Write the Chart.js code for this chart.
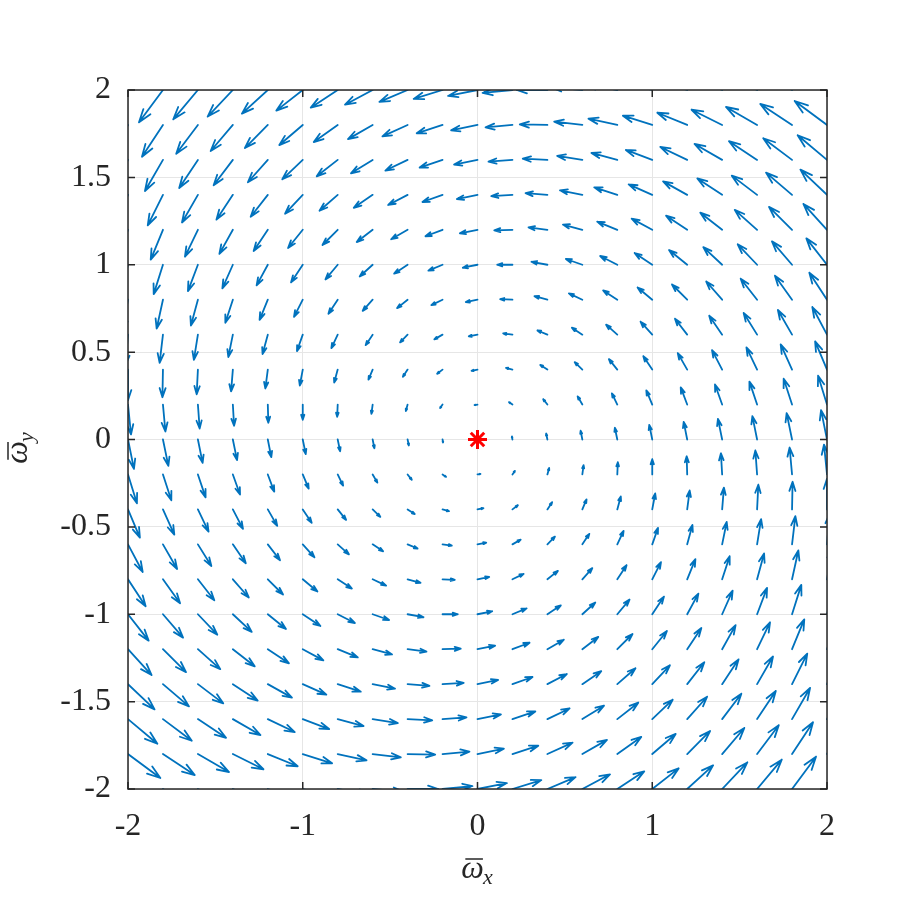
<!DOCTYPE html>
<html>
<head>
<meta charset="utf-8">
<title>Phase portrait</title>
<script src="https://cdn.jsdelivr.net/npm/chart.js@4.4.1/dist/chart.umd.min.js"></script>
<style>
  html, body { margin: 0; padding: 0; background: #fff; }
  #wrap { width: 913px; height: 913px; }
</style>
</head>
<body>
<div id="wrap"><canvas id="phase" width="913" height="913"></canvas></div>
<script>
(function () {
    'use strict';

    // --- Data ---
    // arrow tails sit on a 21 x 21 grid
    const gridX = [-2, -1.8, -1.6, -1.4, -1.2, -1, -0.8, -0.6, -0.4, -0.2, 0, 0.2, 0.4, 0.6, 0.8, 1, 1.2, 1.4, 1.6, 1.8, 2];
    const gridY = [-2, -1.8, -1.6, -1.4, -1.2, -1, -0.8, -0.6, -0.4, -0.2, 0, 0.2, 0.4, 0.6, 0.8, 1, 1.2, 1.4, 1.6, 1.8, 2];

    const duX = [0.034, 0.031, 0.027, 0.024, 0.020, 0.017, 0.014, 0.010, 0.007, 0.003, 0, -0.003, -0.007, -0.010, -0.014, -0.017, -0.020, -0.024, -0.027, -0.031, -0.034];
    const dvX = [-0.168, -0.151, -0.134, -0.118, -0.101, -0.084, -0.067, -0.050, -0.034, -0.017, 0, 0.017, 0.034, 0.050, 0.067, 0.084, 0.101, 0.118, 0.134, 0.151, 0.168];
    const duY = [0.168, 0.151, 0.134, 0.118, 0.101, 0.084, 0.067, 0.050, 0.034, 0.017, 0, -0.017, -0.034, -0.050, -0.067, -0.084, -0.101, -0.118, -0.134, -0.151, -0.168];
    const dvY = [0.034, 0.031, 0.027, 0.024, 0.020, 0.017, 0.014, 0.010, 0.007, 0.003, 0, -0.003, -0.007, -0.010, -0.014, -0.017, -0.020, -0.024, -0.027, -0.031, -0.034];

    const equilibrium = [{ x: 0, y: 0 }];

    const xTicks = [-2, -1, 0, 1, 2];
    const yTicks = [-2, -1.5, -1, -0.5, 0, 0.5, 1, 1.5, 2];

    // --- Styles ---
    const arrowColor = '#0072bd';
    const axisColor = '#262626';
    const gridColor = '#e6e6e6';
    const serif = '"Liberation Serif", "DejaVu Serif", serif';

    const arrows = [];
    gridY.forEach((gy, j) => {
        gridX.forEach((gx, i) => {
            arrows.push({ x: gx, y: gy, u: duX[i] + duY[j], v: dvX[i] + dvY[j] });
        });
    });

    // quiver arrows, under the equilibrium marker
    const quiverPlugin = {
        id: 'quiver',
        beforeDatasetsDraw(chart) {
            const { ctx, chartArea: a } = chart;
            const xs = chart.scales.x, ys = chart.scales.y;
            ctx.save();
            ctx.beginPath();
            ctx.rect(a.left, a.top, a.right - a.left, a.bottom - a.top);
            ctx.clip();
            ctx.strokeStyle = arrowColor;
            ctx.lineWidth = 1.8;
            ctx.lineCap = 'round';
            ctx.lineJoin = 'round';
            chart.data.datasets[0].data.forEach(p => {
                const x0 = xs.getPixelForValue(p.x), y0 = ys.getPixelForValue(p.y);
                const x1 = xs.getPixelForValue(p.x + p.u), y1 = ys.getPixelForValue(p.y + p.v);
                const dx = x1 - x0, dy = y1 - y0;
                ctx.beginPath();
                ctx.moveTo(x0, y0);
                ctx.lineTo(x1, y1);
                ctx.moveTo(x1 - 0.33 * (dx + 0.33 * dy), y1 - 0.33 * (dy - 0.33 * dx));
                ctx.lineTo(x1, y1);
                ctx.lineTo(x1 - 0.33 * (dx - 0.33 * dy), y1 - 0.33 * (dy + 0.33 * dx));
                ctx.stroke();
            });
            ctx.restore();
        }
    };

    // box with inward ticks on all four sides
    const framePlugin = {
        id: 'frame',
        afterDatasetsDraw(chart) {
            const { ctx, chartArea: a } = chart;
            const xs = chart.scales.x, ys = chart.scales.y;
            const len = 7;
            ctx.save();
            ctx.strokeStyle = axisColor;
            ctx.lineWidth = 1.5;
            ctx.beginPath();
            xTicks.forEach(t => {
                const px = xs.getPixelForValue(t);
                ctx.moveTo(px, a.bottom); ctx.lineTo(px, a.bottom - len);
                ctx.moveTo(px, a.top); ctx.lineTo(px, a.top + len);
            });
            yTicks.forEach(t => {
                const py = ys.getPixelForValue(t);
                ctx.moveTo(a.left, py); ctx.lineTo(a.left + len, py);
                ctx.moveTo(a.right, py); ctx.lineTo(a.right - len, py);
            });
            ctx.stroke();
            ctx.strokeRect(a.left, a.top, a.right - a.left, a.bottom - a.top);
            ctx.restore();
        }
    };

    // omega with a bar and a subscript, centred on cx
    function drawSymbol(ctx, sub, cx, base) {
        const big = 'italic 32px ' + serif;
        const small = 'italic 22px ' + serif;
        ctx.font = big;
        const wMain = ctx.measureText('\u03c9').width;
        ctx.font = small;
        const wSub = ctx.measureText(sub).width;
        const left = cx - (wMain + wSub) / 2;
        ctx.font = big;
        ctx.fillText('\u03c9', left, base);
        ctx.font = small;
        ctx.fillText(sub, left + wMain - 1, base + 6);
        ctx.lineWidth = 1.5;
        ctx.beginPath();
        ctx.moveTo(left + 4, base - 19);
        ctx.lineTo(left + wMain - 1, base - 19);
        ctx.stroke();
    }

    const titlePlugin = {
        id: 'titles',
        afterDraw(chart) {
            const { ctx, chartArea: a } = chart;
            ctx.save();
            ctx.fillStyle = axisColor;
            ctx.strokeStyle = axisColor;
            ctx.textAlign = 'left';
            ctx.textBaseline = 'alphabetic';
            drawSymbol(ctx, 'x', (a.left + a.right) / 2, 878);
            ctx.translate(27, (a.top + a.bottom) / 2 + 8);
            ctx.rotate(-Math.PI / 2);
            drawSymbol(ctx, 'y', 0, 0);
            ctx.restore();
        }
    };

    const tickFont = { family: serif, size: 32 };

    new Chart(document.getElementById('phase'), {
        type: 'scatter',
        data: {
            datasets: [
                {
                    label: 'field',
                    data: arrows,
                    pointRadius: 0,
                    pointHoverRadius: 0
                },
                {
                    label: 'equilibrium',
                    data: equilibrium,
                    pointStyle: 'star',
                    pointRadius: 9.5,
                    borderColor: '#ff0000',
                    backgroundColor: '#ff0000',
                    borderWidth: 3
                }
            ]
        },
        options: {
            responsive: false,
            animation: false,
            events: [],
            layout: { padding: { top: 90, right: 86, left: 0, bottom: 0 } },
            plugins: { legend: { display: false }, tooltip: { enabled: false } },
            scales: {
                x: {
                    type: 'linear',
                    min: -2,
                    max: 2,
                    afterBuildTicks: s => { s.ticks = xTicks.map(v => ({ value: v })); },
                    afterFit: s => { s.height = 124; },
                    grid: { color: gridColor, drawTicks: false },
                    border: { display: false },
                    ticks: { font: tickFont, color: axisColor, padding: 18, maxRotation: 0, callback: v => String(v) }
                },
                y: {
                    type: 'linear',
                    min: -2,
                    max: 2,
                    afterBuildTicks: s => { s.ticks = yTicks.map(v => ({ value: v })); },
                    afterFit: s => { s.width = 128; },
                    grid: { color: gridColor, drawTicks: false },
                    border: { display: false },
                    ticks: { font: tickFont, color: axisColor, padding: 17, callback: v => String(v) }
                }
            }
        },
        plugins: [quiverPlugin, framePlugin, titlePlugin]
    });
})();
</script>
</body>
</html>
